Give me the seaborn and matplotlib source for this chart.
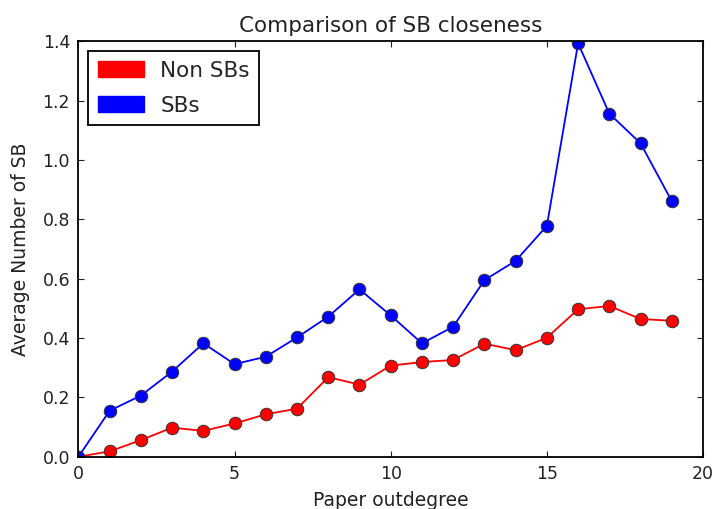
import pandas as pd
import matplotlib.pyplot as plt
import seaborn as sns
from matplotlib.patches import Patch

# values
outdegree = list(range(20))
non_sbs = [0.0, 0.018, 0.056, 0.098, 0.087, 0.112, 0.143, 0.162, 0.268, 0.243,
           0.307, 0.319, 0.326, 0.381, 0.359, 0.401, 0.497, 0.508, 0.464, 0.458]
sbs = [0.0, 0.155, 0.206, 0.287, 0.382, 0.312, 0.337, 0.402, 0.472, 0.564,
       0.476, 0.382, 0.438, 0.595, 0.660, 0.778, 1.393, 1.156, 1.056, 0.861]
groups = ["Non SBs", "SBs"]
colors = {"Non SBs": "red", "SBs": "blue"}

df = pd.DataFrame({
    "outdegree": outdegree * 2,
    "value": non_sbs + sbs,
    "group": [groups[0]] * len(non_sbs) + [groups[1]] * len(sbs),
})

sns.set_style("white")
plt.rcParams.update({
    "xtick.direction": "in",
    "ytick.direction": "in",
    "xtick.top": True,
    "ytick.right": True,
    "xtick.bottom": True,
    "ytick.left": True,
    "xtick.major.size": 4,
    "ytick.major.size": 4,
    "axes.edgecolor": "black",
    "axes.linewidth": 1.3,
})
plt.rcParams["font.family"] = ["DejaVu Sans"]

fig = plt.figure(figsize=(7.13, 5.09), dpi=100)
ax = fig.add_axes([0.110, 0.1027, 0.876, 0.8163])

sns.lineplot(
    data=df, x="outdegree", y="value", hue="group", palette=colors,
    marker="o", markersize=9, markeredgecolor="#333333", markeredgewidth=0.7,
    linewidth=1.3, legend=False, ax=ax,
)

ax.set_xlim(0, 20)
ax.set_ylim(0, 1.4)
ax.set_xticks([0, 5, 10, 15, 20])
ax.set_yticks([0.0, 0.2, 0.4, 0.6, 0.8, 1.0, 1.2, 1.4])
ax.set_yticklabels(["0.0", "0.2", "0.4", "0.6", "0.8", "1.0", "1.2", "1.4"])
ax.tick_params(labelsize=12.5, colors="#222222", width=0.8, pad=6)
for s in ax.spines.values():
    s.set_visible(True)

ax.set_title("Comparison of SB closeness", fontsize=15.5, color="#222222", pad=7)
ax.set_xlabel("Paper outdegree", fontsize=13.5, color="#222222", labelpad=6)
ax.set_ylabel("Average Number of SB", fontsize=13.5, color="#222222", labelpad=9)

handles = [Patch(facecolor=colors[g], edgecolor=colors[g]) for g in groups]
leg = ax.legend(handles, groups, loc="upper left", fontsize=15.5, fancybox=False,
                framealpha=1, edgecolor="black", borderaxespad=0.45,
                handlelength=2.15, handleheight=0.75, handletextpad=0.75,
                labelspacing=0.7, borderpad=0.45)
leg.get_frame().set_linewidth(1.3)

plt.savefig("out.png", dpi=100)
